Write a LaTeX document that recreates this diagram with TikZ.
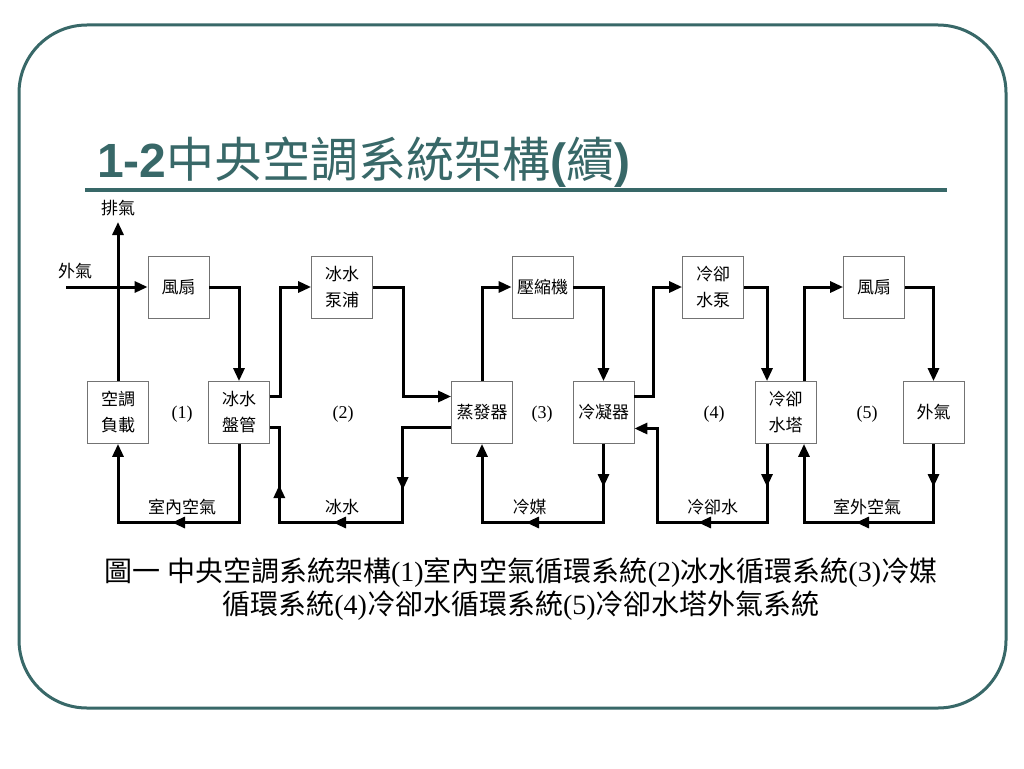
\documentclass[tikz,border=0pt]{standalone}
\usepackage{fontspec}
\setmainfont{Liberation Serif}
\newfontfamily\zhfont{Noto Sans CJK TC}
\newfontfamily\titlefont{Liberation Sans}
\usepackage{tikz}
\usetikzlibrary{arrows.meta}
\definecolor{frameteal}{RGB}{56,104,104}

\tikzset{
  box/.style={draw=black!55, line width=0.8pt, minimum width=61pt, minimum height=62pt,
    inner sep=0pt, align=center, font=\zhfont\fontsize{17}{26}\selectfont},
  pipe/.style={line width=3pt},
  flow/.style={line width=3pt, -{Triangle[length=13pt,width=11pt]}},
  lbl/.style={inner sep=0pt, font=\zhfont\fontsize{17}{20}\selectfont},
  num/.style={inner sep=0pt, font=\fontsize{18}{20}\selectfont}
}

\begin{document}
\begin{tikzpicture}[x=1pt, y=-1pt]
 \useasboundingbox[fill=white] (0,0) rectangle (1024,768);
 \draw[frameteal, line width=3pt, rounded corners=68pt] (19,25) rectangle (1006,708);
 \draw[frameteal, line width=4pt] (85,190) -- (947,190);
 \node[anchor=base west, inner sep=0pt, text=frameteal, font=\fontsize{48}{50}\selectfont] (title) at (97,177)
   {{\titlefont\bfseries 1-2}{\zhfont 中央空調系統架構}{\titlefont\bfseries (}{\zhfont 續}{\titlefont\bfseries )}};

 % boxes
 \node[box] (fanA) at (178.5,287) {風扇};
 \node[box] (pumpA) at (342,287) {冰水\\泵浦};
 \node[box] (load) at (118,412.5) {空調\\負載};
 \node[box] (coil) at (239,412.5) {冰水\\盤管};
 \node[box] (evap) at (482,412.5) {蒸發器};
 \node[box] (comp) at (542.5,287) {壓縮機};
 \node[box] (cond) at (603.5,412.5) {冷凝器};
 \node[box] (pumpB) at (713,287) {冷卻\\水泵};
 \node[box] (tower) at (785.5,412.5) {冷卻\\水塔};
 \node[box] (fanB) at (874,287) {風扇};
 \node[box] (air) at (933.5,412.5) {外氣};

 % (1) indoor air
 \coordinate (airin) at (66,287);
 \coordinate (exh) at (118,222);
 \draw[flow] (airin) -- (fanA.west);
 \draw[flow] (load.north) -- (exh);
 \draw[flow] (fanA.east) -| (coil.north);
 \coordinate (rb1) at (239,522.5); \coordinate (lb1) at (118,522.5);
 \draw[flow] (coil.south) -- (rb1) -- (lb1) -- (load.south);
 \coordinate (l1) at (172,522.5);
 \draw[flow] ([xshift=10pt]l1) -- (l1);

 % (2) chilled water
 \draw[flow] ([yshift=16pt]coil.east) -- ++(10.3,0) |- (pumpA.west);
 \draw[flow] (pumpA.east) -- ++(30.7,0) |- ([yshift=16pt]evap.west);
 \coordinate (rb2) at (402.7,522.5); \coordinate (lb2) at (279.3,522.5);
 \draw[pipe] ([yshift=-15pt]evap.west) -| (rb2) -- (lb2) |- ([yshift=-15pt]coil.east);
 \coordinate (d2) at (402.7,490); \coordinate (l2) at (333,522.5); \coordinate (u2) at (279.3,485);
 \draw[flow] ([yshift=10pt]d2) -- (d2);
 \draw[flow] ([xshift=10pt]l2) -- (l2);
 \draw[flow] ([yshift=-10pt]u2) -- (u2);

 % (3) refrigerant
 \draw[flow] (evap.north) |- (comp.west);
 \draw[flow] (comp.east) -| (cond.north);
 \coordinate (rb3) at (603.5,522.5); \coordinate (lb3) at (482,522.5);
 \draw[flow] (cond.south) -- (rb3) -- (lb3) -- (evap.south);
 \coordinate (d3) at (603.5,487); \coordinate (l3) at (526,522.5);
 \draw[flow] ([yshift=10pt]d3) -- (d3);
 \draw[flow] ([xshift=10pt]l3) -- (l3);

 % (4) cooling water
 \draw[flow] ([yshift=16pt]cond.east) -- ++(19.3,0) |- (pumpB.west);
 \draw[flow] (pumpB.east) -| ([xshift=-18.5pt]tower.north);
 \coordinate (rb4) at (767,522.5); \coordinate (lb4) at (657.6,522.5);
 \draw[flow] ([xshift=-18.5pt]tower.south) -- (rb4) -- (lb4) |- ([yshift=-16pt]cond.east);
 \coordinate (d4) at (767,487); \coordinate (l4) at (698,522.5);
 \draw[flow] ([yshift=10pt]d4) -- (d4);
 \draw[flow] ([xshift=10pt]l4) -- (l4);

 % (5) outdoor air
 \draw[flow] ([xshift=18.5pt]tower.north) |- (fanB.west);
 \draw[flow] (fanB.east) -| (air.north);
 \coordinate (rb5) at (933.5,522.5); \coordinate (lb5) at (804,522.5);
 \draw[flow] (air.south) -- (rb5) -- (lb5) -- ([xshift=18.5pt]tower.south);
 \coordinate (d5) at (933.5,487); \coordinate (l5) at (856,522.5);
 \draw[flow] ([yshift=10pt]d5) -- (d5);
 \draw[flow] ([xshift=10pt]l5) -- (l5);

 % labels
 \node[lbl] (inlbl) at (75,271) {外氣};
 \node[lbl] (exhlbl) at (118,208) {排氣};
 \node[lbl] (t1) at (182,507) {室內空氣};
 \node[lbl] (t2) at (342,507) {冰水};
 \node[lbl] (t3) at (529.5,507) {冷媒};
 \node[lbl] (t4) at (712.5,507) {冷卻水};
 \node[lbl] (t5) at (867,507) {室外空氣};
 \node[num] (n1) at (182,414) {(1)};
 \node[num] (n2) at (343,414) {(2)};
 \node[num] (n3) at (542,414) {(3)};
 \node[num] (n4) at (714,414) {(4)};
 \node[num] (n5) at (867,414) {(5)};

 \node[align=center, inner sep=0pt, font=\fontsize{28}{33}\selectfont] (cap) at (521,589)
  {{\zhfont 圖一 中央空調系統架構}(1){\zhfont 室內空氣循環系統}(2){\zhfont 冰水循環系統}(3){\zhfont 冷媒}\\
   {\zhfont 循環系統}(4){\zhfont 冷卻水循環系統}(5){\zhfont 冷卻水塔外氣系統}};
\end{tikzpicture}
\end{document}
